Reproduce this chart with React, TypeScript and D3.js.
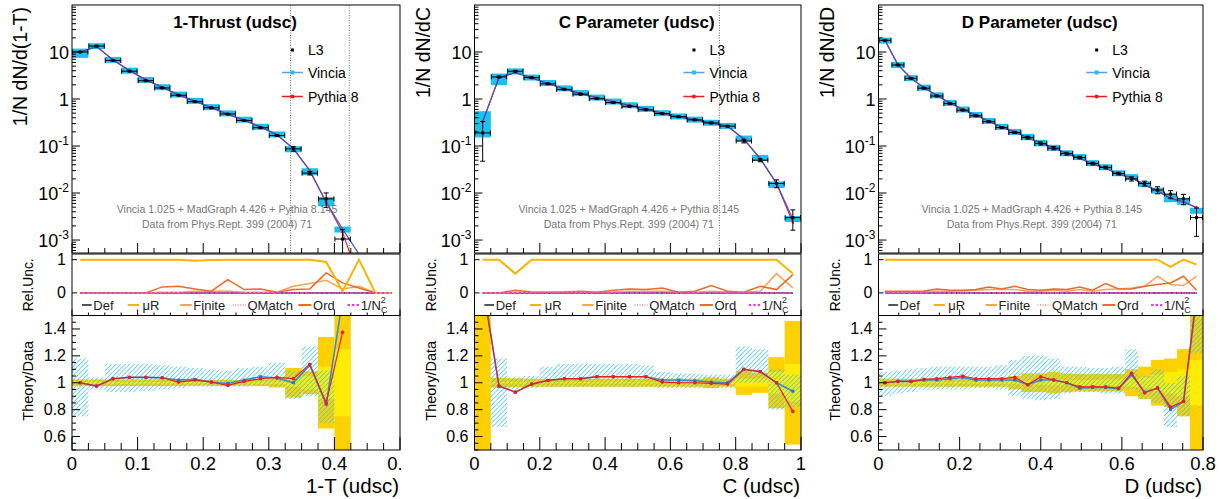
import React from 'react';
import * as d3 from 'd3';

// ================== DATA ==================
// ---- 1-Thrust (udsc) ----
const thrustBinWidth = 0.025;
const thrustData = [10.0, 13.4, 6.6, 3.9, 2.45, 1.72, 1.2, 0.88, 0.65, 0.48, 0.35, 0.245, 0.167, 0.087, 0.0265, 0.0075, 0.00105];
const thrustErrOuter = [0.025, 0.025, 0.025, 0.025, 0.025, 0.025, 0.025, 0.022, 0.022, 0.022, 0.022, 0.025, 0.035, 0.11, 0.085, 0.34, 0.6];
const thrustErrInner = [0.006, 0.006, 0.006, 0.006, 0.006, 0.006, 0.006, 0.006, 0.006, 0.006, 0.006, 0.008, 0.01, 0.03, 0.05, 0.12, 0.25];
const thrustVinciaRatio = [1.0, 0.975, 1.03, 1.04, 1.04, 1.037, 1.02, 1.025, 1.005, 0.995, 1.02, 1.045, 1.035, 1.0, 1.13, 0.84, 1.62];
const thrustPythiaRatio = [1.0, 0.975, 1.03, 1.04, 1.04, 1.037, 1.005, 1.02, 1.005, 0.98, 1.01, 1.03, 1.04, 1.03, 1.138, 0.85, 1.376];
const thrustVinciaLo: (number | null)[] = [0.75, 0.95, 0.93, 0.93, 0.94, 0.95, 0.96, 0.97, 0.97, 0.97, 0.97, 0.98, 0.97, 0.88, 0.9, 0.7, null];
const thrustVinciaHi: (number | null)[] = [1.18, 1.04, 1.14, 1.14, 1.14, 1.13, 1.12, 1.11, 1.1, 1.09, 1.11, 1.12, 1.15, 1.09, 1.27, 1.09, null];
const thrustBoxExtra = [{ bin: 16, lo: 1.45, hi: 1.75 }];
const thrustTailX = [0.4375];
const thrustTailVincia = [5e-4];
const thrustTailPythia = [1.5e-4];
const thrustRefLines = [0.3333, 0.4226];
const thrustRelMuR = [1, 1, 1, 1, 1, 1, 1, 0.97, 0.99, 1, 1, 1, 1, 1, 1, 0.93, 0.05, 1.0, 0, 0];
const thrustRelFinite = [0, 0, 0, 0, 0, 0.02, 0.02, 0.05, 0.05, 0.06, 0.02, 0.02, 0.02, 0.2, 0.28, 0.38, 0.12, 0.2, 0, 0];
const thrustRelOrd = [0, 0, 0, 0, 0, 0.18, 0.2, 0.12, 0.05, 0.4, 0.1, 0.12, 0.02, 0.1, 0.12, 0.6, 0.3, 0.15, 0, 0];
const thrustRelDef = [0, 0, 0, 0, 0, 0, 0, 0, 0, 0, 0, 0, 0, 0, 0, 0, 0, 0, 0, 0];
const thrustRelQMatch = [0, 0, 0, 0, 0, 0, 0, 0, 0, 0, 0, 0, 0, 0, 0, 0, 0, 0, 0, 0];
const thrustRelNc = [0, 0, 0, 0, 0, 0, 0, 0, 0, 0, 0, 0, 0, 0, 0, 0, 0, 0, 0, 0];

// ---- C Parameter (udsc) ----
const cBinWidth = 0.05;
const cData = [0.19, 2.95, 3.9, 2.85, 2.1, 1.6, 1.27, 1.02, 0.84, 0.7, 0.59, 0.49, 0.42, 0.36, 0.31, 0.265, 0.128, 0.05, 0.016, 0.003];
const cErrOuter = [0.75, 0.037, 0.033, 0.03, 0.03, 0.03, 0.03, 0.03, 0.03, 0.03, 0.03, 0.03, 0.03, 0.03, 0.04, 0.03, 0.09, 0.075, 0.19, 0.46];
const cErrInner = [0.004, 0.006, 0.006, 0.005, 0.005, 0.005, 0.005, 0.005, 0.005, 0.005, 0.005, 0.005, 0.005, 0.006, 0.008, 0.01, 0.03, 0.03, 0.08, 0.14];
const cVinciaRatio = [1.75, 0.975, 0.93, 0.99, 1.017, 1.03, 1.03, 1.045, 1.045, 1.045, 1.045, 1.02, 1.02, 1.015, 1.005, 1.0, 1.1, 1.083, 1.0, 0.937];
const cPythiaRatio = [1.72, 0.975, 0.93, 0.99, 1.017, 1.03, 1.03, 1.045, 1.045, 1.045, 1.045, 1.005, 1.0, 1.0, 0.995, 0.99, 1.1, 1.083, 1.0, 0.787];
const cVinciaLo: (number | null)[] = [null, 0.67, 0.95, 0.96, 0.97, 0.97, 0.97, 0.97, 0.97, 0.97, 0.97, 0.96, 0.96, 0.96, 0.96, 0.96, 1.0, 1.0, 0.8, 0.82];
const cVinciaHi: (number | null)[] = [null, 1.18, 1.04, 1.05, 1.12, 1.14, 1.14, 1.14, 1.14, 1.14, 1.13, 1.08, 1.07, 1.07, 1.06, 1.06, 1.27, 1.25, 1.1, 1.06];
const cBoxExtra = [{ bin: 0, lo: 0.8, hi: 2.9 }];
const cRefLines = [0.75];
const cRelMuR = [1, 1, 0.58, 1, 1, 1, 1, 1, 1, 1, 1, 1, 1, 1, 1, 1, 1, 1, 1, 0.58];
const cRelFinite = [0, 0, 0.02, 0.02, 0.02, 0.02, 0.02, 0.02, 0.03, 0.05, 0.05, 0.05, 0.03, 0.02, 0.05, 0.03, 0.02, 0.05, 0.58, 0.15];
const cRelOrd = [0, 0, 0.08, 0.03, 0.02, 0.03, 0.05, 0.02, 0.08, 0.12, 0.1, 0.15, 0.02, 0.05, 0.22, 0.05, 0.02, 0.2, 0.1, 0.55];
const cRelDef = [0, 0, 0, 0, 0, 0, 0, 0, 0, 0, 0, 0, 0, 0, 0, 0, 0, 0, 0, 0];
const cRelQMatch = [0, 0, 0, 0, 0, 0, 0, 0, 0, 0, 0, 0, 0, 0, 0, 0, 0, 0, 0, 0];
const cRelNc = [0, 0, 0, 0, 0, 0, 0, 0, 0, 0, 0, 0, 0, 0, 0, 0, 0, 0, 0, 0];

// ---- D Parameter (udsc) ----
const dBinWidth = 0.032;
const dData = [17.7, 5.3, 2.75, 1.7, 1.16, 0.8, 0.58, 0.44, 0.33, 0.247, 0.194, 0.151, 0.113, 0.09, 0.069, 0.057, 0.0425, 0.035, 0.026, 0.02, 0.016, 0.0116, 0.0095, 0.0075, 0.003];
const dErrOuter = [0.03, 0.03, 0.03, 0.03, 0.03, 0.03, 0.03, 0.03, 0.03, 0.03, 0.05, 0.07, 0.07, 0.08, 0.07, 0.065, 0.065, 0.065, 0.065, 0.1, 0.12, 0.17, 0.18, 0.25, 0.6];
const dErrInner = [0.006, 0.006, 0.006, 0.006, 0.006, 0.006, 0.006, 0.006, 0.006, 0.008, 0.01, 0.015, 0.015, 0.02, 0.02, 0.02, 0.02, 0.025, 0.025, 0.03, 0.04, 0.06, 0.08, 0.1, 0.17];
const dVinciaRatio = [1.0, 1.01, 1.01, 1.02, 1.02, 1.03, 1.04, 1.02, 1.02, 1.02, 1.02, 0.985, 1.02, 1.02, 1.0, 0.96, 0.965, 0.965, 0.955, 1.06, 0.93, 0.96, 0.8, 0.86, 1.62];
const dPythiaRatio = [1.0, 1.01, 1.01, 1.025, 1.03, 1.04, 1.05, 1.03, 1.03, 1.03, 1.04, 0.985, 1.045, 1.02, 1.0, 0.97, 0.97, 0.97, 0.96, 1.07, 0.925, 0.962, 0.82, 0.862, 1.65];
const dVinciaLo: (number | null)[] = [0.9, 0.92, 0.93, 0.95, 0.95, 0.95, 0.95, 0.96, 0.96, 0.95, 0.9, 0.88, 0.87, 0.88, 0.92, 0.93, 0.93, 0.92, 0.92, 0.95, 0.88, 0.85, 0.67, 0.75, 1.22];
const dVinciaHi: (number | null)[] = [1.08, 1.09, 1.1, 1.11, 1.12, 1.12, 1.12, 1.12, 1.12, 1.13, 1.17, 1.2, 1.2, 1.18, 1.12, 1.12, 1.11, 1.11, 1.12, 1.25, 1.05, 1.1, 1.0, 1.05, 1.6];
const dRelMuR = [1, 1, 1, 1, 1, 1, 1, 1, 1, 1, 1, 1, 1, 1, 1, 1, 1, 1, 1, 1, 1, 1, 0.78, 1.0, 0.85];
const dRelFinite = [0.03, 0.03, 0.03, 0.04, 0.05, 0.05, 0.06, 0.08, 0.1, 0.1, 0.1, 0.05, 0.05, 0.08, 0.05, 0.1, 0.05, 0.1, 0.12, 0.15, 0.2, 0.5, 0.25, 0.22, 0.5];
const dRelOrd = [0.05, 0.05, 0.05, 0.06, 0.12, 0.08, 0.08, 0.1, 0.18, 0.12, 0.2, 0.1, 0.08, 0.12, 0.1, 0.18, 0.08, 0.28, 0.12, 0.12, 0.2, 0.25, 0.3, 0.5, 0.08];
const dRelDef = [0, 0, 0, 0, 0, 0, 0, 0, 0, 0, 0, 0, 0, 0, 0, 0, 0, 0, 0, 0, 0, 0, 0, 0, 0];
const dRelQMatch = [0, 0, 0, 0, 0, 0, 0, 0, 0, 0, 0, 0, 0, 0, 0, 0, 0, 0, 0, 0, 0, 0, 0, 0, 0];
const dRelNc = [0, 0, 0, 0, 0, 0, 0, 0, 0, 0, 0, 0, 0, 0, 0, 0, 0, 0, 0, 0, 0, 0, 0, 0, 0];

const ratioTicks = [0.6, 0.8, 1, 1.2, 1.4];
const relTicks = [0, 1];
const logMajorTicks = [10, 1, 0.1, 0.01, 0.001];
const creditLines = ['Vincia 1.025 + MadGraph 4.426 + Pythia 8.145', 'Data from Phys.Rept. 399 (2004) 71'];

// ================== LAYOUT / STYLE ==================
const FONT = '"Liberation Sans", Arial, Helvetica, sans-serif';
const TOP_Y0 = 5, TOP_Y1 = 253;
const REL_Y0 = 254, REL_Y1 = 315.5;
const RAT_Y0 = 315.5, RAT_Y1 = 450;
const COL = {
  box: '#18c2f2', hatch: '#38c8f2', gold: '#fdd100', yellow: '#ffec00',
  vin: '#3350d8', vinR: '#3b8ad6', vinMk: '#2f6fd8', pyt: '#ee1c1c',
  muR: '#fab400', finite: '#f7a455', ord: '#f0692c', def: '#555555', qm: '#f08888', nc: '#e03ee0',
};

type Spec = {
  title: string; yTitle: string; xTitle: string;
  xLeft: number; xRight: number; xMax: number; major: number; minor: number; clipLabels: boolean;
  binWidth: number; data: number[]; errOuter: number[]; errInner: number[];
  vinciaRatio: number[]; pythiaRatio: number[]; vinciaLo: (number | null)[]; vinciaHi: (number | null)[];
  boxExtra: { bin: number; lo: number; hi: number }[];
  tailX: number[]; tailVincia: number[]; tailPythia: number[]; refLines: number[];
  rel: { muR: number[]; finite: number[]; ord: number[]; def: number[]; qm: number[]; nc: number[] };
};

const specs: Spec[] = [
  {
    title: '1-Thrust (udsc)', yTitle: '1/N dN/d(1-T)', xTitle: '1-T (udsc)',
    xLeft: 72, xRight: 400, xMax: 0.5, major: 0.1, minor: 0.025, clipLabels: true,
    binWidth: thrustBinWidth, data: thrustData, errOuter: thrustErrOuter, errInner: thrustErrInner,
    vinciaRatio: thrustVinciaRatio, pythiaRatio: thrustPythiaRatio, vinciaLo: thrustVinciaLo, vinciaHi: thrustVinciaHi,
    boxExtra: thrustBoxExtra, tailX: thrustTailX, tailVincia: thrustTailVincia, tailPythia: thrustTailPythia, refLines: thrustRefLines,
    rel: { muR: thrustRelMuR, finite: thrustRelFinite, ord: thrustRelOrd, def: thrustRelDef, qm: thrustRelQMatch, nc: thrustRelNc },
  },
  {
    title: 'C Parameter (udsc)', yTitle: '1/N dN/dC', xTitle: 'C (udsc)',
    xLeft: 474.5, xRight: 801, xMax: 1.0, major: 0.2, minor: 0.05, clipLabels: false,
    binWidth: cBinWidth, data: cData, errOuter: cErrOuter, errInner: cErrInner,
    vinciaRatio: cVinciaRatio, pythiaRatio: cPythiaRatio, vinciaLo: cVinciaLo, vinciaHi: cVinciaHi,
    boxExtra: cBoxExtra, tailX: [], tailVincia: [], tailPythia: [], refLines: cRefLines,
    rel: { muR: cRelMuR, finite: cRelFinite, ord: cRelOrd, def: cRelDef, qm: cRelQMatch, nc: cRelNc },
  },
  {
    title: 'D Parameter (udsc)', yTitle: '1/N dN/dD', xTitle: 'D (udsc)',
    xLeft: 878.5, xRight: 1203, xMax: 0.8, major: 0.2, minor: 0.05, clipLabels: false,
    binWidth: dBinWidth, data: dData, errOuter: dErrOuter, errInner: dErrInner,
    vinciaRatio: dVinciaRatio, pythiaRatio: dPythiaRatio, vinciaLo: dVinciaLo, vinciaHi: dVinciaHi,
    boxExtra: [], tailX: [], tailVincia: [], tailPythia: [], refLines: [],
    rel: { muR: dRelMuR, finite: dRelFinite, ord: dRelOrd, def: dRelDef, qm: dRelQMatch, nc: dRelNc },
  },
];

const fmtX = (v: number) => String(+v.toFixed(3));

function Panel({ s, idx }: { s: Spec; idx: number }) {
  const w = s.xRight - s.xLeft;
  const x = d3.scaleLinear().domain([0, s.xMax]).range([s.xLeft, s.xRight]);
  const yT = d3.scaleLog().domain([5.3e-4, 100]).range([TOP_Y1, TOP_Y0]);
  const yR = d3.scaleLinear().domain([-0.68, 1.17]).range([REL_Y1, REL_Y0]);
  const yQ = d3.scaleLinear().domain([0.5, 1.5]).range([RAT_Y1, RAT_Y0]);
  const bw = s.binWidth;
  const cxv = (i: number) => bw * i + bw / 2;
  const x0 = (i: number) => x(bw * i);
  const x1 = (i: number) => x(bw * (i + 1));
  const id = `p${idx}`;

  type P = { xv: number; v: number };
  const vin: P[] = s.data.map((d, i) => ({ xv: cxv(i), v: d * s.vinciaRatio[i] }))
    .concat(s.tailX.map((t, j) => ({ xv: t, v: s.tailVincia[j] })));
  const pyt: P[] = s.data.map((d, i) => ({ xv: cxv(i), v: d * s.pythiaRatio[i] }))
    .concat(s.tailX.map((t, j) => ({ xv: t, v: s.tailPythia[j] })));
  const lineT = d3.line<P>().x(p => x(p.xv)).y(p => yT(Math.max(p.v, 1e-7)));
  const lineQ = d3.line<number>().x((_, i) => x(cxv(i))).y(v => yQ(v));
  const lineR = d3.line<number>().x((_, i) => x(cxv(i))).y(v => yR(v));

  // x ticks
  const majors = d3.range(0, s.xMax + 1e-9, s.major);
  const minors = d3.range(0, s.xMax + 1e-9, s.minor).filter(v => !majors.some(m => Math.abs(m - v) < 1e-9));
  const xTicks = (yb: number, lm: number, ln: number, key: string) => (
    <g key={key} stroke="#000" strokeWidth={1}>
      {majors.map(v => <line key={'M' + v} x1={x(v)} x2={x(v)} y1={yb} y2={yb - lm} />)}
      {minors.map(v => <line key={'m' + v} x1={x(v)} x2={x(v)} y1={yb} y2={yb - ln} />)}
    </g>
  );

  // log y ticks
  const logMinor: number[] = [];
  for (let e = -4; e <= 1; e++) for (let k = 2; k <= 9; k++) {
    const v = k * Math.pow(10, e);
    if (v > 5.3e-4 && v < 100) logMinor.push(v);
  }
  const ratioMinor = d3.range(0.5, 1.5001, 0.05).filter(v => !ratioTicks.some(m => Math.abs(m - v) < 1e-6));

  // top boxes
  const boxes = s.data.map((d, i) => {
    const ex = s.boxExtra.find(b => b.bin === i);
    const lo = ex ? ex.lo : s.vinciaLo[i];
    const hi = ex ? ex.hi : s.vinciaHi[i];
    let ya: number, yb: number;
    if (lo == null || hi == null) {
      const yc = yT(d * s.vinciaRatio[i]);
      ya = yc - 3; yb = yc + 3;
    } else {
      ya = yT(d * hi); yb = yT(d * lo);
      if (yb - ya < 6) { const m = (ya + yb) / 2; ya = m - 3; yb = m + 3; }
    }
    return { x: x0(i), w: x1(i) - x0(i), y: ya, h: yb - ya };
  });

  const relLegend = [
    { a: 0.03, b: 0.06, t: 0.065, label: 'Def', color: COL.def, dash: undefined as string | undefined, sw: 2 },
    { a: 0.17, b: 0.205, t: 0.215, label: 'μR', color: COL.muR, dash: undefined, sw: 2 },
    { a: 0.33, b: 0.365, t: 0.37, label: 'Finite', color: COL.finite, dash: undefined, sw: 2 },
    { a: 0.49, b: 0.53, t: 0.535, label: 'QMatch', color: COL.qm, dash: '1,1.5', sw: 1.5 },
    { a: 0.69, b: 0.73, t: 0.735, label: 'Ord', color: COL.ord, dash: undefined, sw: 2 },
    { a: 0.84, b: 0.875, t: 0.88, label: 'Nc', color: COL.nc, dash: '2.5,2', sw: 2 },
  ];

  const legX = s.xLeft + 0.64 * w;
  const creditX = (s.xLeft + s.xRight) / 2 - 9;

  return (
    <g>
      <defs>
        <clipPath id={`${id}-top`}><rect x={s.xLeft} y={TOP_Y0} width={w} height={TOP_Y1 - TOP_Y0} /></clipPath>
        <clipPath id={`${id}-rel`}><rect x={s.xLeft} y={REL_Y0} width={w} height={REL_Y1 - REL_Y0} /></clipPath>
        <clipPath id={`${id}-rat`}><rect x={s.xLeft} y={RAT_Y0} width={w} height={RAT_Y1 - RAT_Y0} /></clipPath>
        <clipPath id={`${id}-lab`}><rect x={s.xLeft - 80} y={0} width={w + 80 + (s.clipLabels ? 1.5 : 30)} height={499} /></clipPath>
      </defs>

      {/* ---------- TOP PANEL ---------- */}
      <g clipPath={`url(#${id}-top)`}>
        {s.refLines.map(v => (
          <line key={v} x1={x(v)} x2={x(v)} y1={TOP_Y0} y2={TOP_Y1} stroke="#666" strokeWidth={1} strokeDasharray="1,1.5" />
        ))}
        {boxes.map((b, i) => <rect key={i} x={b.x} y={b.y} width={b.w} height={b.h} fill={COL.box} />)}
        <path d={lineT(pyt) || ''} fill="none" stroke={COL.pyt} strokeWidth={1.1} />
        <path d={lineT(vin) || ''} fill="none" stroke={COL.vin} strokeWidth={1.3} opacity={0.9} />
        {pyt.map((p, i) => <circle key={i} cx={x(p.xv)} cy={yT(Math.max(p.v, 1e-7))} r={1.3} fill={COL.pyt} />)}
        {s.data.map((d, i) => {
          const cx = x(cxv(i)), cy = yT(d);
          const ylo = yT(d * (1 - Math.min(s.errOuter[i], 0.95))), yhi = yT(d * (1 + s.errOuter[i]));
          return (
            <g key={i} stroke="#000" strokeWidth={1}>
              <line x1={x0(i) + 0.5} x2={x1(i) - 0.5} y1={cy} y2={cy} />
              <line x1={x0(i) + 0.5} x2={x0(i) + 0.5} y1={cy - 2.5} y2={cy + 2.5} />
              <line x1={x1(i) - 0.5} x2={x1(i) - 0.5} y1={cy - 2.5} y2={cy + 2.5} />
              <line x1={cx} x2={cx} y1={yhi} y2={ylo} />
              <line x1={cx - 2.5} x2={cx + 2.5} y1={yhi} y2={yhi} />
              <line x1={cx - 2.5} x2={cx + 2.5} y1={ylo} y2={ylo} />
              <rect x={cx - 1.5} y={cy - 1.5} width={3} height={3} fill="#000" stroke="none" />
            </g>
          );
        })}
      </g>
      {/* log y ticks */}
      <g stroke="#000" strokeWidth={1}>
        {logMajorTicks.map(v => <line key={v} x1={s.xLeft} x2={s.xLeft + 8} y1={yT(v)} y2={yT(v)} />)}
        {logMinor.map(v => <line key={v} x1={s.xLeft} x2={s.xLeft + 4} y1={yT(v)} y2={yT(v)} />)}
      </g>
      {xTicks(TOP_Y1, 10, 5, 'tt')}
      <g fontFamily={FONT} fontSize={18} fill="#000" textAnchor="end">
        {logMajorTicks.map(v => {
          const e = Math.round(Math.log10(v));
          return (
            <text key={v} x={s.xLeft - 3} y={yT(v) + 6.5}>
              {e === 1 ? '10' : e === 0 ? '1' : (<>10<tspan fontSize={12} dy={-7.5}>{String(e)}</tspan></>)}
            </text>
          );
        })}
      </g>
      <text transform={`translate(${s.xLeft - 45},${TOP_Y0 + 2}) rotate(-90)`} textAnchor="end" fontFamily={FONT} fontSize={19.5}>{s.yTitle}</text>
      <text x={(s.xLeft + s.xRight) / 2 - 1} y={28} textAnchor="middle" fontFamily={FONT} fontSize={17} fontWeight="bold">{s.title}</text>
      {/* legend */}
      <g fontFamily={FONT} fontSize={14}>
        <rect x={legX + 9} y={48.5} width={3} height={3} fill="#000" />
        <text x={legX + 26} y={55}>L3</text>
        <line x1={legX} x2={legX + 21} y1={72.5} y2={72.5} stroke="#5a9ee8" strokeWidth={1.5} />
        <rect x={legX + 8.5} y={70.5} width={4} height={4} fill="#22c0f0" />
        <text x={legX + 26} y={77.5}>Vincia</text>
        <line x1={legX} x2={legX + 21} y1={96.5} y2={96.5} stroke={COL.pyt} strokeWidth={1.5} />
        <circle cx={legX + 10.5} cy={96.5} r={2} fill={COL.pyt} />
        <text x={legX + 26} y={101.5}>Pythia 8</text>
      </g>
      <g fontFamily={FONT} fontSize={10.6} fill="#777" textAnchor="middle">
        <text x={creditX} y={213}>{creditLines[0]}</text>
        <text x={creditX} y={227.5}>{creditLines[1]}</text>
      </g>
      <rect x={s.xLeft} y={TOP_Y0} width={w} height={TOP_Y1 - TOP_Y0} fill="none" stroke="#000" strokeWidth={1} />

      {/* ---------- REL UNC PANEL ---------- */}
      <g clipPath={`url(#${id}-rel)`} fill="none">
        <path d={lineR(s.rel.def) || ''} stroke={COL.def} strokeWidth={2} />
        <path d={lineR(s.rel.finite) || ''} stroke={COL.finite} strokeWidth={1.5} />
        <path d={lineR(s.rel.ord) || ''} stroke={COL.ord} strokeWidth={1.5} />
        <path d={lineR(s.rel.muR) || ''} stroke={COL.muR} strokeWidth={2} />
        <path d={lineR(s.rel.qm) || ''} stroke={COL.qm} strokeWidth={1.5} strokeDasharray="1,1.5" />
        <path d={lineR(s.rel.nc) || ''} stroke={COL.nc} strokeWidth={2} strokeDasharray="2.5,2" />
      </g>
      <g fontFamily={FONT} fontSize={13} fill="#222">
        {relLegend.map(l => (
          <g key={l.label}>
            <line x1={s.xLeft + l.a * w} x2={s.xLeft + l.b * w} y1={305} y2={305} stroke={l.color} strokeWidth={l.sw} strokeDasharray={l.dash} />
            {l.label === 'Nc' ? (
              <text x={s.xLeft + l.t * w} y={309.5}>1/N<tspan fontSize={9} dy={-7}>2</tspan><tspan fontSize={9} dx={-5} dy={10}>C</tspan></text>
            ) : (
              <text x={s.xLeft + l.t * w} y={309.5}>{l.label}</text>
            )}
          </g>
        ))}
      </g>
      <g stroke="#000" strokeWidth={1}>
        {relTicks.map(v => <line key={v} x1={s.xLeft} x2={s.xLeft + 5} y1={yR(v)} y2={yR(v)} />)}
      </g>
      {xTicks(REL_Y1, 6, 3, 'rt')}
      <g fontFamily={FONT} fontSize={16} textAnchor="end">
        {relTicks.map(v => <text key={v} x={s.xLeft - 6} y={yR(v) + 5.5}>{String(v)}</text>)}
      </g>
      <text transform={`translate(${s.xLeft - 39},${(REL_Y0 + REL_Y1) / 2}) rotate(-90)`} textAnchor="middle" fontFamily={FONT} fontSize={13.8}>Rel.Unc.</text>
      <rect x={s.xLeft} y={REL_Y0} width={w} height={REL_Y1 - REL_Y0} fill="none" stroke="#000" strokeWidth={1} />

      {/* ---------- RATIO PANEL ---------- */}
      <g clipPath={`url(#${id}-rat)`}>
        {s.data.map((_, i) => (
          <rect key={'o' + i} x={x0(i)} width={x1(i) - x0(i)} y={yQ(1 + s.errOuter[i])} height={yQ(1 - s.errOuter[i]) - yQ(1 + s.errOuter[i])} fill={COL.gold} />
        ))}
        {s.data.map((_, i) => (
          <rect key={'i' + i} x={x0(i)} width={x1(i) - x0(i)} y={yQ(1 + s.errInner[i])} height={Math.max(1, yQ(1 - s.errInner[i]) - yQ(1 + s.errInner[i]))} fill={COL.yellow} />
        ))}
        {s.data.map((_, i) => {
          const lo = s.vinciaLo[i], hi = s.vinciaHi[i];
          if (lo == null || hi == null) return null;
          return <rect key={'h' + i} x={x0(i)} width={x1(i) - x0(i)} y={yQ(hi)} height={yQ(lo) - yQ(hi)} fill="url(#hatch)" />;
        })}
        <path d={lineQ(s.vinciaRatio) || ''} fill="none" stroke={COL.vinR} strokeWidth={1.6} />
        <path d={lineQ(s.pythiaRatio) || ''} fill="none" stroke={COL.pyt} strokeWidth={1.2} />
        {s.vinciaRatio.map((v, i) => <rect key={'vm' + i} x={x(cxv(i)) - 1.5} y={yQ(v) - 1.5} width={3} height={3} fill={COL.vinMk} />)}
        {s.pythiaRatio.map((v, i) => <circle key={'pm' + i} cx={x(cxv(i))} cy={yQ(v)} r={1.8} fill={COL.pyt} />)}
      </g>
      <g stroke="#000" strokeWidth={1}>
        {ratioTicks.map(v => <line key={v} x1={s.xLeft} x2={s.xLeft + 8} y1={yQ(v)} y2={yQ(v)} />)}
        {ratioMinor.map(v => <line key={v} x1={s.xLeft} x2={s.xLeft + 4} y1={yQ(v)} y2={yQ(v)} />)}
      </g>
      {xTicks(RAT_Y1, 13, 7, 'qt')}
      <g fontFamily={FONT} fontSize={16} textAnchor="end">
        {ratioTicks.map(v => <text key={v} x={s.xLeft - 6} y={yQ(v) + 5.5}>{String(v)}</text>)}
      </g>
      <text transform={`translate(${s.xLeft - 39},${(RAT_Y0 + RAT_Y1) / 2 - 2}) rotate(-90)`} textAnchor="middle" fontFamily={FONT} fontSize={14.5}>Theory/Data</text>
      <rect x={s.xLeft} y={RAT_Y0} width={w} height={RAT_Y1 - RAT_Y0} fill="none" stroke="#000" strokeWidth={1} />

      {/* x labels */}
      <g clipPath={`url(#${id}-lab)`} fontFamily={FONT} fontSize={18.5} textAnchor="middle">
        {majors.map(v => <text key={v} x={x(v)} y={470}>{fmtX(v)}</text>)}
      </g>
      <text x={s.xRight - 1} y={493} textAnchor="end" fontFamily={FONT} fontSize={20.5}>{s.xTitle}</text>
    </g>
  );
}

export default function App() {
  return (
    <svg width={1221} height={499} style={{ position: 'absolute', left: 0, top: 0, background: '#fff' }}>
      <defs>
        <pattern id="hatch" patternUnits="userSpaceOnUse" width={3.2} height={3.2} patternTransform="rotate(45)">
          <line x1={0} y1={0} x2={0} y2={3.2} stroke={COL.hatch} strokeWidth={1.4} />
        </pattern>
      </defs>
      <rect x={0} y={0} width={1221} height={499} fill="#fff" />
      {specs.map((s, i) => <Panel key={i} s={s} idx={i} />)}
    </svg>
  );
}
